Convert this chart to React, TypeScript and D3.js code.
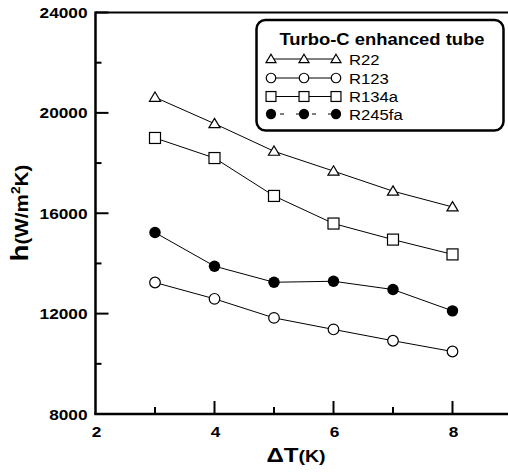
import React from "react";
import * as d3 from "d3";

const xValues = [3, 4, 5, 6, 7, 8];
const r22 = [20620, 19570, 18470, 17680, 16880, 16250];
const r123 = [13240, 12590, 11830, 11370, 10920, 10490];
const r134a = [19000, 18200, 16690, 15590, 14950, 14360];
const r245fa = [15230, 13890, 13250, 13290, 12960, 12110];
const yTicks = [8000, 12000, 16000, 20000, 24000];
const yMinorTicks = [10000, 14000, 18000, 22000];
const xTicks = [2, 4, 6, 8];
const xMinorTicks = [3, 5, 7];
const legendTitle = "Turbo-C enhanced tube";

type Marker = "triangle" | "circle" | "square" | "filled";
const series: { name: string; values: number[]; marker: Marker }[] = [
  { name: "R22", values: r22, marker: "triangle" },
  { name: "R123", values: r123, marker: "circle" },
  { name: "R134a", values: r134a, marker: "square" },
  { name: "R245fa", values: r245fa, marker: "filled" },
];

const W = 508;
const H = 475;
const L = 95.5;
const R = 512;
const T = 12.5;
const B = 414;
const font = "'Liberation Sans', Arial, sans-serif";
const SX = 1.15;

const x = d3.scaleLinear().domain([2, 9]).range([L, R]);
const y = d3.scaleLinear().domain([8000, 24000]).range([B, T]);

function MarkerShape({ m, cx, cy, k = 1 }: { m: Marker; cx: number; cy: number; k?: number }) {
  if (m === "triangle") {
    const s = 5.3 * k;
    const pts = `${cx},${cy - s} ${cx + s * 1.05},${cy + s * 0.75} ${cx - s * 1.05},${cy + s * 0.75}`;
    return <polygon points={pts} fill="white" stroke="black" strokeWidth={1.2} />;
  }
  if (m === "circle") return <circle cx={cx} cy={cy} r={5.3 * k} fill="white" stroke="black" strokeWidth={1.2} />;
  if (m === "square")
    return (
      <rect
        x={cx - 5.5 * k}
        y={cy - 5.5 * k}
        width={11 * k}
        height={11 * k}
        fill="white"
        stroke="black"
        strokeWidth={1.2}
      />
    );
  return <circle cx={cx} cy={cy} r={5.7 * k} fill="black" />;
}

function Txt({
  x: tx,
  y: ty,
  anchor = "start",
  size,
  bold = true,
  children,
  rotate = 0,
}: {
  x: number;
  y: number;
  anchor?: string;
  size: number;
  bold?: boolean;
  children: React.ReactNode;
  rotate?: number;
}) {
  return (
    <text
      transform={`translate(${tx},${ty}) rotate(${rotate}) scale(${SX},1)`}
      textAnchor={anchor}
      fontFamily={font}
      fontWeight={bold ? "bold" : "normal"}
      fontSize={size}
    >
      {children}
    </text>
  );
}

export default function App() {
  const line = d3
    .line<[number, number]>()
    .x((d) => x(d[0]))
    .y((d) => y(d[1]));

  const legendRows = [59, 78, 96.5, 114];
  const legendX = [271, 304, 336];

  return (
    <svg width={W} height={H} style={{ display: "block", position: "absolute", left: 0, top: 0 }}>
      <rect width={W} height={H} fill="white" />
      {/* axes */}
      <line x1={L} x2={W} y1={T} y2={T} stroke="black" strokeWidth={2} />
      <line x1={L} x2={L} y1={T - 1} y2={B + 1} stroke="black" strokeWidth={2.5} />
      <line x1={L - 1} x2={W} y1={B} y2={B} stroke="black" strokeWidth={2.5} />
      {yTicks.map((t) => (
        <g key={"y" + t}>
          <line x1={L} x2={L + 13} y1={y(t)} y2={y(t)} stroke="black" strokeWidth={2} />
          <Txt x={L - 8} y={y(t) + 5.5} anchor="end" size={15}>
            {t}
          </Txt>
        </g>
      ))}
      {yMinorTicks.map((t) => (
        <line key={"ym" + t} x1={L} x2={L + 6} y1={y(t)} y2={y(t)} stroke="black" strokeWidth={2} />
      ))}
      {xTicks.map((t) => (
        <g key={"x" + t}>
          {t !== 2 && <line x1={x(t)} x2={x(t)} y1={B} y2={B - 13} stroke="black" strokeWidth={2} />}
          <Txt x={x(t) + 1} y={B + 23} anchor="middle" size={15}>
            {t}
          </Txt>
        </g>
      ))}
      {xMinorTicks.map((t) => (
        <line key={"xm" + t} x1={x(t)} x2={x(t)} y1={B} y2={B - 7} stroke="black" strokeWidth={2} />
      ))}
      {/* axis titles */}
      <Txt x={296} y={462} anchor="middle" size={21}>
        <tspan>ΔT</tspan>
        <tspan fontSize={17}>(K)</tspan>
      </Txt>
      <Txt x={28} y={213} anchor="middle" size={24} rotate={-90}>
        <tspan>h</tspan>
        <tspan fontSize={18}>(W/m</tspan>
        <tspan fontSize={12} dy={-8}>2</tspan>
        <tspan fontSize={18} dy={8}>K)</tspan>
      </Txt>
      {/* series */}
      {series.map((s) => (
        <g key={s.name}>
          <path
            d={line(xValues.map((v, i) => [v, s.values[i]] as [number, number])) || ""}
            fill="none"
            stroke="black"
            strokeWidth={1}
          />
          {xValues.map((v, i) => (
            <MarkerShape key={i} m={s.marker} cx={x(v)} cy={y(s.values[i])} />
          ))}
        </g>
      ))}
      {/* legend */}
      <rect x={256.5} y={20} width={247} height={110.5} rx={9} fill="white" stroke="black" strokeWidth={2.5} />
      <Txt x={382} y={44.5} anchor="middle" size={16}>
        {legendTitle}
      </Txt>
      {series.map((s, i) => (
        <g key={"lg" + s.name}>
          <line
            x1={legendX[0]}
            x2={legendX[2]}
            y1={legendRows[i]}
            y2={legendRows[i]}
            stroke="black"
            strokeWidth={1}
            strokeDasharray={s.marker === "filled" ? "4,12" : undefined}
            strokeDashoffset={s.marker === "filled" ? -9 : undefined}
          />
          {legendX.map((lx, j) => (
            <MarkerShape key={j} m={s.marker} cx={lx} cy={legendRows[i]} k={0.9} />
          ))}
          <Txt x={349} y={legendRows[i] + 5.5} size={14.5} bold={false}>
            {s.name}
          </Txt>
        </g>
      ))}
    </svg>
  );
}
